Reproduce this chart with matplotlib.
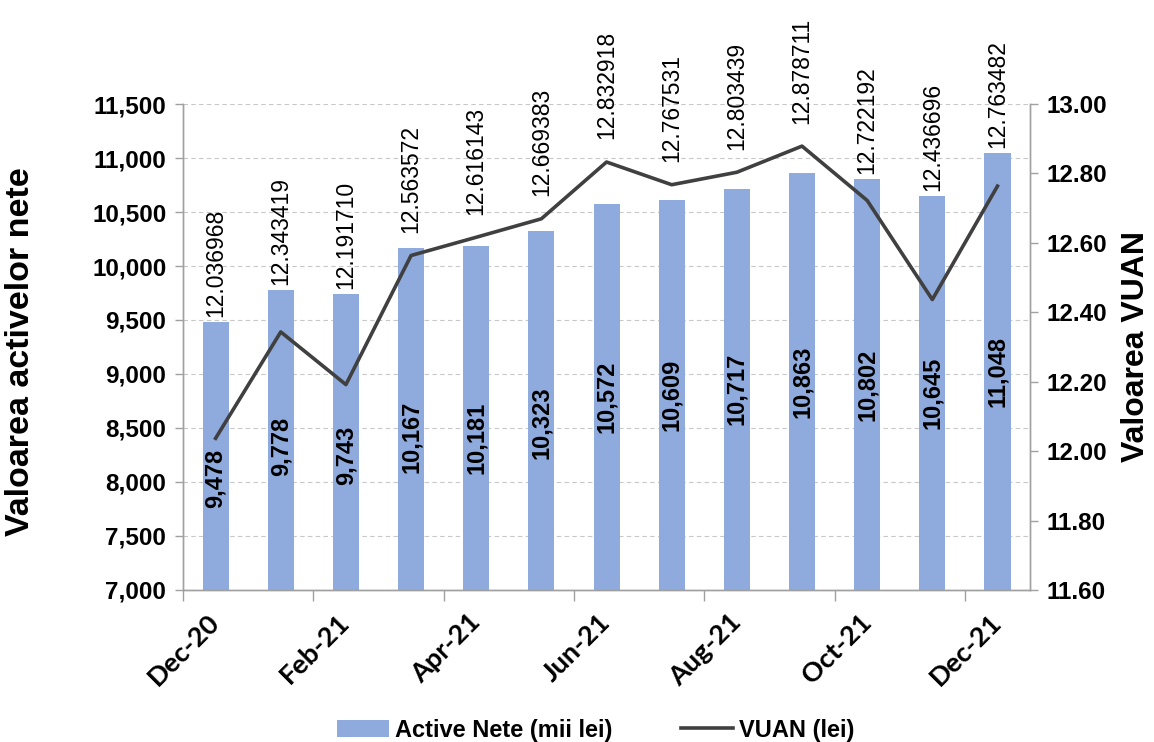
import numpy as np
import matplotlib.pyplot as plt
from matplotlib.transforms import offset_copy

# data
months = ["Dec-20", "Jan-21", "Feb-21", "Mar-21", "Apr-21", "May-21", "Jun-21",
          "Jul-21", "Aug-21", "Sep-21", "Oct-21", "Nov-21", "Dec-21"]
active_nete = [9478, 9778, 9743, 10167, 10181, 10323, 10572,
               10609, 10717, 10863, 10802, 10645, 11048]
vuan = [12.036968, 12.343419, 12.191710, 12.563572, 12.616143, 12.669383, 12.832918,
        12.767531, 12.803439, 12.878711, 12.722192, 12.436696, 12.763482]

y1_min, y1_max = 7000, 11500
y2_min, y2_max = 11.60, 13.00

plt.rcParams['font.family'] = ['Liberation Sans', 'DejaVu Sans']

fig = plt.figure(figsize=(11.54, 7.42), dpi=100)
ax = fig.add_axes([0.1586, 0.2049, 0.7340, 0.6549])
ax2 = ax.twinx()

x = np.arange(len(months))
bar_color = '#8FAADC'
line_color = '#404040'
grey = '#A0A0A0'

bars = ax.bar(x, active_nete, width=0.4, color=bar_color, zorder=2,
              label="Active Nete (mii lei)")
line, = ax2.plot(x, vuan, color=line_color, linewidth=2.6, zorder=3,
                 label="VUAN (lei)")

ax.set_xlim(-0.5, len(months) - 0.5)
ax.set_ylim(y1_min, y1_max)
ax2.set_ylim(y2_min, y2_max)

ax.set_yticks(np.arange(7000, 11501, 500))
ax.set_yticklabels([f"{v:,}" for v in range(7000, 11501, 500)],
                   fontsize=17.5, fontweight='bold')
ax2.set_yticks(np.arange(11.6, 13.001, 0.2))
ax2.set_yticklabels([f"{v:.2f}" for v in np.arange(11.6, 13.001, 0.2)],
                    fontsize=17.5, fontweight='bold')

ax.yaxis.grid(True, linestyle=(0, (4, 3)), color='#C8C8C8', linewidth=0.8, zorder=0)
ax.set_axisbelow(True)

# x ticks at every other category boundary, labels under every other month
ax.set_xticks(np.arange(-0.5, len(months) - 0.5, 2))
ax.set_xticklabels([])
ax.set_xticks(x[::2], minor=True)
ax.set_xticklabels(months[::2], minor=True, rotation=45, ha='right', va='center',
                   rotation_mode='anchor', fontsize=19.5, fontweight='bold',
                   family=['Lato', 'DejaVu Sans'])
ax.tick_params(axis='x', which='major', length=8, color=grey, width=1)
ax.tick_params(axis='x', which='minor', length=0, pad=20)
ax.tick_params(axis='y', length=6, color=grey, width=1, pad=6)
ax2.tick_params(axis='y', length=6, color=grey, width=1, pad=6)

for a in (ax, ax2):
    a.spines['top'].set_visible(False)
    for s in ('left', 'right', 'bottom'):
        a.spines[s].set_color(grey)
        a.spines[s].set_linewidth(1)

ax.set_ylabel("Valoarea activelor nete", fontsize=24.5, fontweight='bold')
ax.yaxis.set_label_coords(-0.174, 0.49)
ax2.set_ylabel("Valoarea VUAN", fontsize=23, fontweight='bold', labelpad=10)

# bar value labels, roughly centred on the visible part of the bar
# (the first few were nudged down in the original to clear the line)
nudge_px = [22, 6, 14, 18, 20, 12, 0, 0, 0, 0, 0, 0, 0]
for i, v in enumerate(active_nete):
    tr = offset_copy(ax.transData, fig=fig, x=0, y=-nudge_px[i], units='dots')
    ax.text(i, (y1_min + v) / 2, f"{v:,}", rotation=90, ha='center', va='center',
            fontsize=17, fontweight='bold', zorder=4, transform=tr)

# VUAN labels above whichever is higher: bar top or line point
scale = (y2_max - y2_min) / (y1_max - y1_min)
for i, (v, b) in enumerate(zip(vuan, active_nete)):
    bar_top = y2_min + (b - y1_min) * scale
    ypos = max(bar_top + 0.015, v + 0.065)
    ax2.text(i, ypos, f"{v:.6f}", rotation=90, ha='center', va='bottom',
             fontsize=16.5, clip_on=False, zorder=4)

fig.legend(handles=[bars, line], loc='center', bbox_to_anchor=(0.516, 0.016),
           ncol=2, frameon=False, prop={'size': 17, 'weight': 'bold'},
           handlelength=2.2, columnspacing=2.9, handletextpad=0.25)

plt.savefig("out.png", dpi=100)
